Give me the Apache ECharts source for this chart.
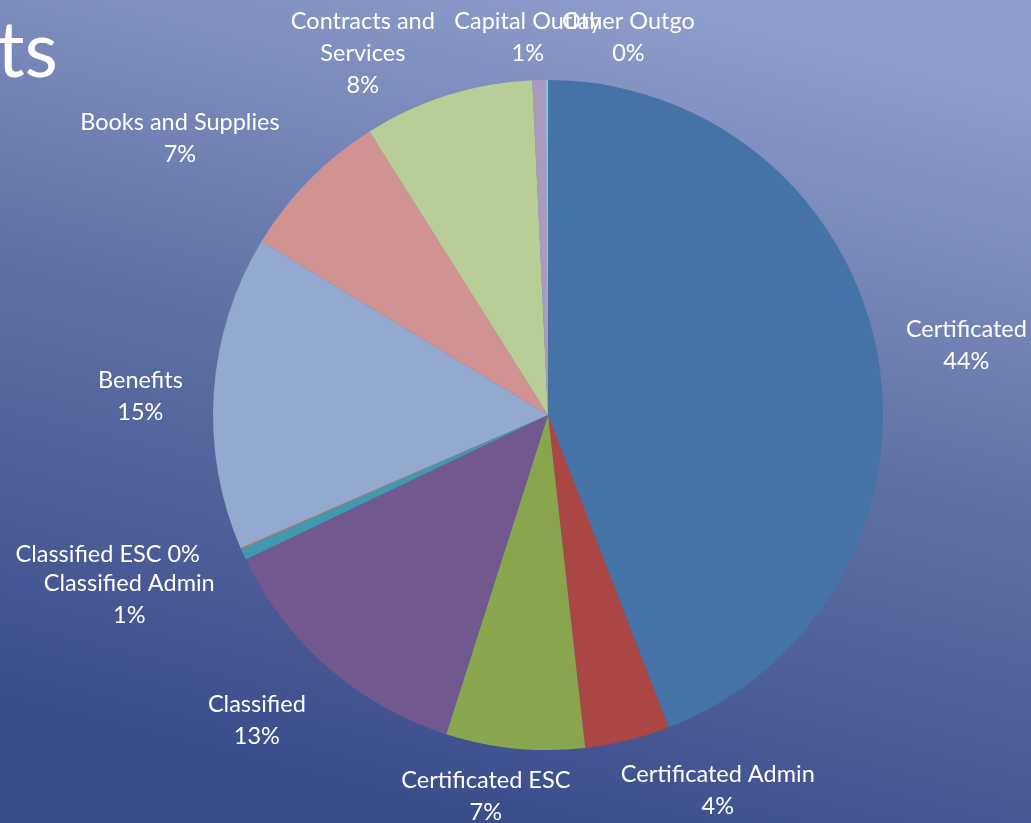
<!DOCTYPE html>
<html>
<head>
<meta charset="utf-8">
<script src="https://cdn.jsdelivr.net/npm/echarts@6/dist/echarts.min.js"></script>
<style>
  html, body { margin: 0; padding: 0; }
  #chart { width: 1031px; height: 823px; }
</style>
</head>
<body>
<div id="chart"></div>
<script>
const categories = [
  "Certificated", "Certificated Admin", "Certificated ESC", "Classified",
  "Classified Admin", "Classified ESC", "Benefits", "Books and Supplies",
  "Contracts and Services", "Capital Outlay", "Other Outgo"
];
const values = [44.2, 4.1, 6.7, 13.0, 0.55, 0.05, 15.2, 7.4, 8.2, 0.65, 0.1];
const colors = [
  "#4572A7", "#AA4643", "#89A54E", "#71588F", "#4198AF", "#DB843D",
  "#93A9CF", "#D19392", "#B9CD96", "#A99BBD", "#92C5D8"
];
// label text as it wraps in the original
const labelNames = {
  "Contracts and Services": "Contracts and\nServices"
};
// nudges so the labels sit where the original's best-fit placement put them
const labelNudge = {
  "Certificated": [-2, -3],
  "Certificated Admin": [-18, 25],
  "Certificated ESC": [63, 22],
  "Classified": [0, 33],
  "Classified Admin": [0, 34],
  "Classified ESC": [-12, -5],
  "Benefits": [0, 6],
  "Books and Supplies": [-6, -23],
  "Contracts and Services": [0, -17],
  "Capital Outlay": [68, -17],
  "Other Outgo": [153, -17]
};

let chart = echarts.init(document.getElementById("chart"));
let option = {
  backgroundColor: {
    type: "linear",
    x: 0.6, y: 0, x2: 0.4, y2: 1,
    colorStops: [
      { offset: 0, color: "#8d9cca" },
      { offset: 0.5, color: "#5d6ea3" },
      { offset: 1, color: "#3a4b8b" }
    ]
  },
  color: colors,
  graphic: [
    {
      type: "text",
      left: -3,
      top: 14,
      style: {
        text: "ts",
        fill: "#fff",
        font: "77px Lato, 'Open Sans', sans-serif"
      }
    }
  ],
  series: [
    {
      type: "pie",
      center: [548, 415],
      radius: 335,
      startAngle: 90,
      clockwise: true,
      avoidLabelOverlap: false,
      minShowLabelAngle: 0,
      percentPrecision: 4,
      labelLine: { show: false, length: 26, length2: 0 },
      labelLayout: function (p) {
        let n = labelNudge[categories[p.dataIndex]] || [0, 0];
        return { dx: n[0], dy: n[1], hideOverlap: false };
      },
      label: {
        show: true,
        position: "outside",
        color: "#fff",
        fontFamily: "Lato, 'Open Sans', sans-serif",
        fontSize: 23.5,
        lineHeight: 32,
        formatter: function (p) {
          let pct = Math.round(p.percent) + "%";
          if (p.name === "Classified ESC") return "{c|" + p.name + " " + pct + "}";
          let name = labelNames[p.name] || p.name;
          return name.split("\n").map(s => "{c|" + s + "}").join("\n") + "\n{c|" + pct + "}";
        },
        rich: {
          c: { align: "center", color: "#fff", fontSize: 23.5, lineHeight: 32,
               fontFamily: "Lato, 'Open Sans', sans-serif" }
        }
      },
      emphasis: { disabled: true },
      data: categories.map((c, i) => ({ name: c, value: values[i] }))
    }
  ]
};
chart.setOption(option);
</script>
</body>
</html>
